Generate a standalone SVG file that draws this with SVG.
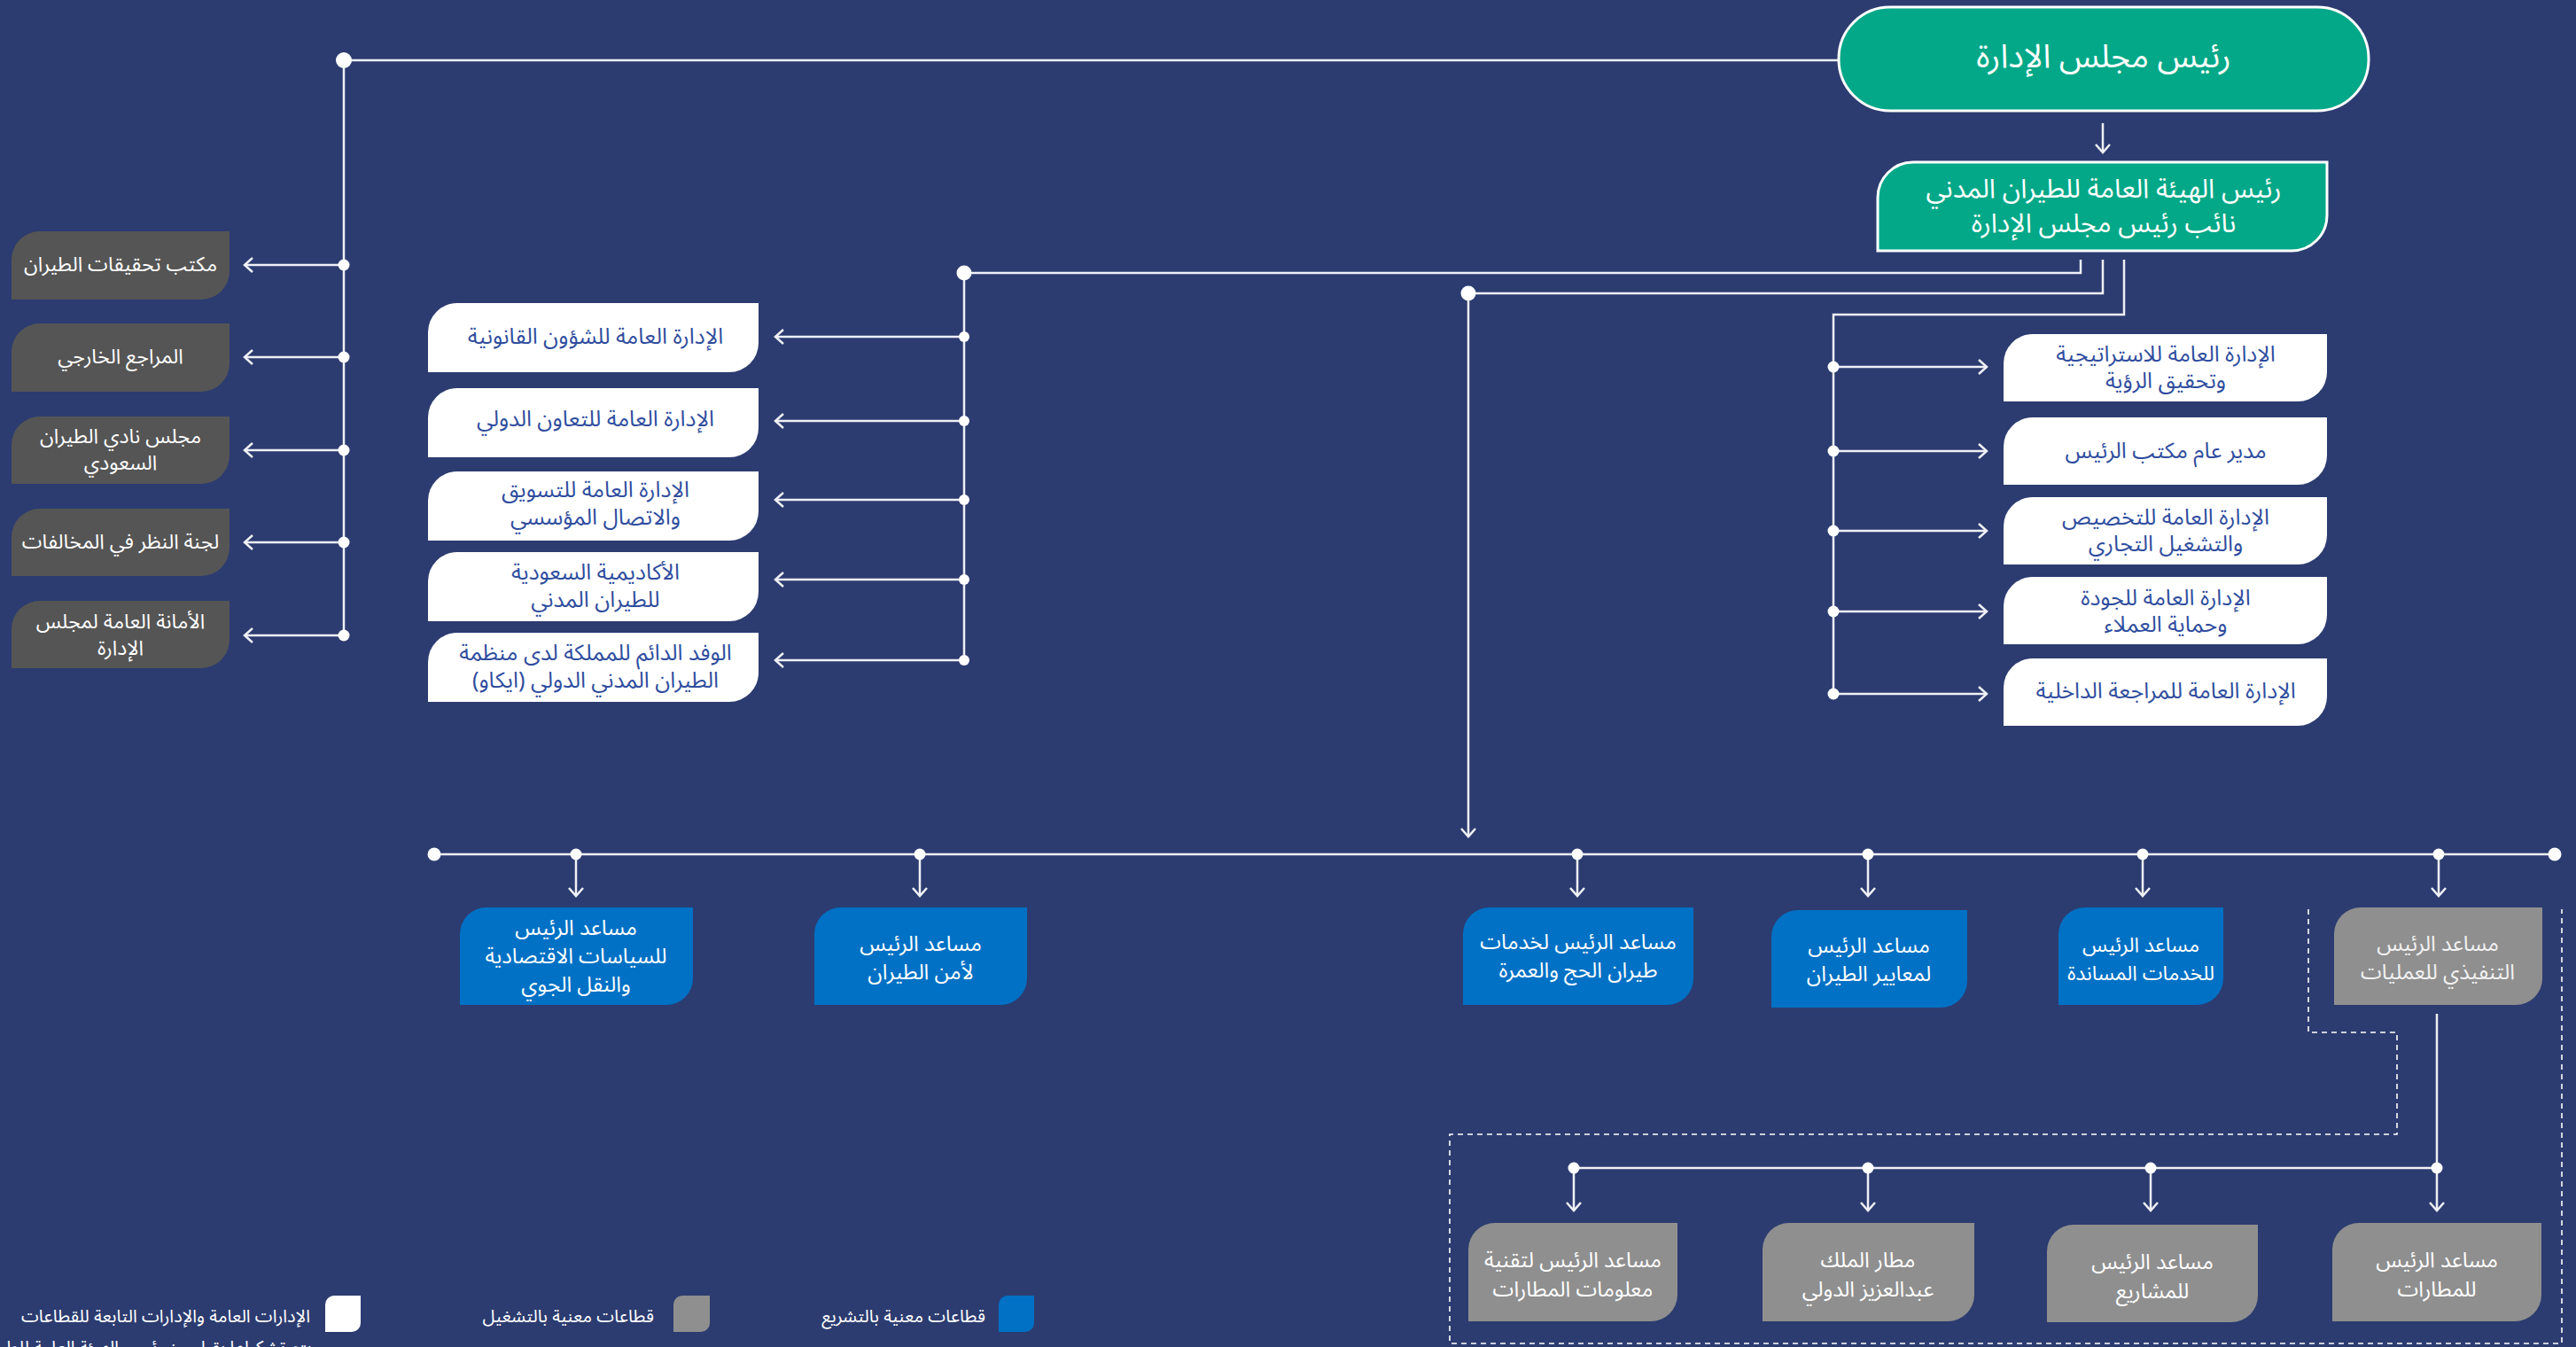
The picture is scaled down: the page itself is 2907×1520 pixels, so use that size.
<svg xmlns="http://www.w3.org/2000/svg" width="2907" height="1520" viewBox="0 0 2907 1520">
<defs>
<style>
.t{font-family:"Noto Sans Arabic","DejaVu Sans",sans-serif;text-anchor:middle;dominant-baseline:central}
.tw{fill:#ffffff;font-size:24px}
.tl{fill:#ffffff;font-size:23px}
.tb{fill:#2f4d9e;font-size:25px}
.tg{fill:#f2f2f2;font-size:24px}
.lg{font-family:"Noto Sans Arabic","DejaVu Sans",sans-serif;fill:#ffffff;font-size:20px;text-anchor:end}
.white{fill:#ffffff}
.dgray{fill:#555555}
.lgray{fill:#8f8f8f}
.blue{fill:#0071c5}
.green{fill:#02a887;stroke:#ffffff;stroke-width:3}
.ln{fill:none;stroke:#eef0f5;stroke-width:2.5}
.ar{fill:none;stroke:#eef0f5;stroke-width:2.5;marker-end:url(#ah)}
.dash{fill:none;stroke:#ffffff;stroke-width:1.6;stroke-dasharray:6 5}
.dot{fill:#ffffff}
</style>
<marker id="ah" markerUnits="userSpaceOnUse" markerWidth="24" markerHeight="24" viewBox="-12 -12 24 24" refX="0" refY="0" orient="auto">
<path d="M-9,-8 L0,0 L-9,8" fill="none" stroke="#eef0f5" stroke-width="2.5"/>
</marker>
</defs>
<rect width="2907" height="1520" fill="#2c3c70"/>

<g id="connectors">
<line class="ln" x1="388" y1="68" x2="2075" y2="68"/>
<line class="ln" x1="388" y1="68" x2="388" y2="717"/>
<line class="ar" x1="388" y1="299" x2="276" y2="299"/>
<line class="ar" x1="388" y1="403" x2="276" y2="403"/>
<line class="ar" x1="388" y1="508" x2="276" y2="508"/>
<line class="ar" x1="388" y1="612" x2="276" y2="612"/>
<line class="ar" x1="388" y1="717" x2="276" y2="717"/>
<line class="ar" x1="2373" y1="139" x2="2373" y2="172"/>
<polyline class="ln" points="2348,293 2348,308 1088,308"/>
<line class="ln" x1="1088" y1="308" x2="1088" y2="745"/>
<line class="ar" x1="1088" y1="380" x2="875" y2="380"/>
<line class="ar" x1="1088" y1="475" x2="875" y2="475"/>
<line class="ar" x1="1088" y1="564" x2="875" y2="564"/>
<line class="ar" x1="1088" y1="654" x2="875" y2="654"/>
<line class="ar" x1="1088" y1="745" x2="875" y2="745"/>
<polyline class="ln" points="2373,293 2373,331 1657,331"/>
<line class="ar" x1="1657" y1="331" x2="1657" y2="944"/>
<polyline class="ln" points="2397,293 2397,355 2069,355 2069,783"/>
<line class="ar" x1="2069" y1="414" x2="2242" y2="414"/>
<line class="ar" x1="2069" y1="509" x2="2242" y2="509"/>
<line class="ar" x1="2069" y1="599" x2="2242" y2="599"/>
<line class="ar" x1="2069" y1="690" x2="2242" y2="690"/>
<line class="ar" x1="2069" y1="783" x2="2242" y2="783"/>
<line class="ln" x1="490" y1="964" x2="2883" y2="964"/>
<line class="ar" x1="650" y1="964" x2="650" y2="1011"/>
<line class="ar" x1="1038" y1="964" x2="1038" y2="1011"/>
<line class="ar" x1="1780" y1="964" x2="1780" y2="1011"/>
<line class="ar" x1="2108" y1="964" x2="2108" y2="1011"/>
<line class="ar" x1="2418" y1="964" x2="2418" y2="1011"/>
<line class="ar" x1="2752" y1="964" x2="2752" y2="1011"/>
<line class="ln" x1="2750" y1="1144" x2="2750" y2="1318"/>
<line class="ln" x1="1776" y1="1318" x2="2750" y2="1318"/>
<line class="ar" x1="1776" y1="1318" x2="1776" y2="1366"/>
<line class="ar" x1="2108" y1="1318" x2="2108" y2="1366"/>
<line class="ar" x1="2427" y1="1318" x2="2427" y2="1366"/>
<line class="ar" x1="2750" y1="1318" x2="2750" y2="1366"/>
<path class="dash" d="M2605,1026 V1165 H2705 V1280 H1636 V1516 H2891 V1026"/>
<circle class="dot" cx="388" cy="68" r="9"/>
<circle class="dot" cx="388" cy="299" r="6.5"/>
<circle class="dot" cx="388" cy="403" r="6.5"/>
<circle class="dot" cx="388" cy="508" r="6.5"/>
<circle class="dot" cx="388" cy="612" r="6.5"/>
<circle class="dot" cx="388" cy="717" r="6.5"/>
<circle class="dot" cx="1088" cy="308" r="8.5"/>
<circle class="dot" cx="1088" cy="380" r="6"/>
<circle class="dot" cx="1088" cy="475" r="6"/>
<circle class="dot" cx="1088" cy="564" r="6"/>
<circle class="dot" cx="1088" cy="654" r="6"/>
<circle class="dot" cx="1088" cy="745" r="6"/>
<circle class="dot" cx="1657" cy="331" r="8.5"/>
<circle class="dot" cx="2069" cy="414" r="6.5"/>
<circle class="dot" cx="2069" cy="509" r="6.5"/>
<circle class="dot" cx="2069" cy="599" r="6.5"/>
<circle class="dot" cx="2069" cy="690" r="6.5"/>
<circle class="dot" cx="2069" cy="783" r="6.5"/>
<circle class="dot" cx="490" cy="964" r="7.5"/>
<circle class="dot" cx="2883" cy="964" r="7.5"/>
<circle class="dot" cx="650" cy="964" r="6.5"/>
<circle class="dot" cx="1038" cy="964" r="6.5"/>
<circle class="dot" cx="1780" cy="964" r="6.5"/>
<circle class="dot" cx="2108" cy="964" r="6.5"/>
<circle class="dot" cx="2418" cy="964" r="6.5"/>
<circle class="dot" cx="2752" cy="964" r="6.5"/>
<circle class="dot" cx="1776" cy="1318" r="6.5"/>
<circle class="dot" cx="2108" cy="1318" r="6.5"/>
<circle class="dot" cx="2427" cy="1318" r="6.5"/>
<circle class="dot" cx="2750" cy="1318" r="6.5"/>
</g>

<g id="n-chairman">
<rect class="green" x="2075" y="8" width="598" height="117" rx="58" ry="58"/>
<text class="t" x="2374" y="64" fill="#ffffff" font-size="37">رئيس مجلس الإدارة</text>
</g>
<g id="n-president">
<path class="green" d="M2119 223 A40 40 0 0 1 2159 183 H2626 V243 A40 40 0 0 1 2586 283 H2119 Z"/>
<text class="t" fill="#ffffff" font-size="30"><tspan x="2374" y="213">رئيس الهيئة العامة للطيران المدني</tspan><tspan x="2374" y="252">نائب رئيس مجلس الإدارة</tspan></text>
</g>

<g id="n-left1"><path class="dgray" d="M13 293 A32 32 0 0 1 45 261 H259 V306 A32 32 0 0 1 227 338 H13 Z"/>
<text class="t tl" x="136" y="298">مكتب تحقيقات الطيران</text></g>
<g id="n-left2"><path class="dgray" d="M13 397 A32 32 0 0 1 45 365 H259 V410 A32 32 0 0 1 227 442 H13 Z"/>
<text class="t tl" x="136" y="402">المراجع الخارجي</text></g>
<g id="n-left3"><path class="dgray" d="M13 502 A32 32 0 0 1 45 470 H259 V514 A32 32 0 0 1 227 546 H13 Z"/>
<text class="t tl"><tspan x="136" y="492">مجلس نادي الطيران</tspan><tspan x="136" y="522">السعودي</tspan></text></g>
<g id="n-left4"><path class="dgray" d="M13 606 A32 32 0 0 1 45 574 H259 V618 A32 32 0 0 1 227 650 H13 Z"/>
<text class="t tl" x="136" y="611">لجنة النظر في المخالفات</text></g>
<g id="n-left5"><path class="dgray" d="M13 710 A32 32 0 0 1 45 678 H259 V722 A32 32 0 0 1 227 754 H13 Z"/>
<text class="t tl"><tspan x="136" y="701">الأمانة العامة لمجلس</tspan><tspan x="136" y="731">الإدارة</tspan></text></g>

<g id="n-mid1"><path class="white" d="M483 375 A33 33 0 0 1 516 342 H856 V387 A33 33 0 0 1 823 420 H483 Z"/>
<text class="t tb" x="672" y="380">الإدارة العامة للشؤون القانونية</text></g>
<g id="n-mid2"><path class="white" d="M483 471 A33 33 0 0 1 516 438 H856 V483 A33 33 0 0 1 823 516 H483 Z"/>
<text class="t tb" x="672" y="473">الإدارة العامة للتعاون الدولي</text></g>
<g id="n-mid3"><path class="white" d="M483 565 A33 33 0 0 1 516 532 H856 V577 A33 33 0 0 1 823 610 H483 Z"/>
<text class="t tb"><tspan x="672" y="553">الإدارة العامة للتسويق</tspan><tspan x="672" y="584">والاتصال المؤسسي</tspan></text></g>
<g id="n-mid4"><path class="white" d="M483 656 A33 33 0 0 1 516 623 H856 V668 A33 33 0 0 1 823 701 H483 Z"/>
<text class="t tb"><tspan x="672" y="646">الأكاديمية السعودية</tspan><tspan x="672" y="677">للطيران المدني</tspan></text></g>
<g id="n-mid5"><path class="white" d="M483 747 A33 33 0 0 1 516 714 H856 V759 A33 33 0 0 1 823 792 H483 Z"/>
<text class="t tb"><tspan x="672" y="737">الوفد الدائم للمملكة لدى منظمة</tspan><tspan x="672" y="768">الطيران المدني الدولي (ايكاو)</tspan></text></g>

<g id="n-right1"><path class="white" d="M2261 410 A33 33 0 0 1 2294 377 H2626 V420 A33 33 0 0 1 2593 453 H2261 Z"/>
<text class="t tb"><tspan x="2444" y="400">الإدارة العامة للاستراتيجية</tspan><tspan x="2444" y="430">وتحقيق الرؤية</tspan></text></g>
<g id="n-right2"><path class="white" d="M2261 504 A33 33 0 0 1 2294 471 H2626 V514 A33 33 0 0 1 2593 547 H2261 Z"/>
<text class="t tb" x="2444" y="509">مدير عام مكتب الرئيس</text></g>
<g id="n-right3"><path class="white" d="M2261 594 A33 33 0 0 1 2294 561 H2626 V604 A33 33 0 0 1 2593 637 H2261 Z"/>
<text class="t tb"><tspan x="2444" y="584">الإدارة العامة للتخصيص</tspan><tspan x="2444" y="614">والتشغيل التجاري</tspan></text></g>
<g id="n-right4"><path class="white" d="M2261 684 A33 33 0 0 1 2294 651 H2626 V694 A33 33 0 0 1 2593 727 H2261 Z"/>
<text class="t tb"><tspan x="2444" y="675">الإدارة العامة للجودة</tspan><tspan x="2444" y="705">وحماية العملاء</tspan></text></g>
<g id="n-right5"><path class="white" d="M2261 776 A33 33 0 0 1 2294 743 H2626 V786 A33 33 0 0 1 2593 819 H2261 Z"/>
<text class="t tb" x="2444" y="780">الإدارة العامة للمراجعة الداخلية</text></g>

<g id="n-econ"><path class="blue" d="M519 1054 A30 30 0 0 1 549 1024 H782 V1104 A30 30 0 0 1 752 1134 H519 Z"/>
<text class="t tw"><tspan x="650" y="1047">مساعد الرئيس</tspan><tspan x="650" y="1079">للسياسات الاقتصادية</tspan><tspan x="650" y="1111">والنقل الجوي</tspan></text></g>
<g id="n-security"><path class="blue" d="M919 1054 A30 30 0 0 1 949 1024 H1159 V1104 A30 30 0 0 1 1129 1134 H919 Z"/>
<text class="t tw"><tspan x="1039" y="1065">مساعد الرئيس</tspan><tspan x="1039" y="1097">لأمن الطيران</tspan></text></g>
<g id="n-hajj"><path class="blue" d="M1651 1054 A30 30 0 0 1 1681 1024 H1911 V1104 A30 30 0 0 1 1881 1134 H1651 Z"/>
<text class="t tw"><tspan x="1781" y="1063">مساعد الرئيس لخدمات</tspan><tspan x="1781" y="1095">طيران الحج والعمرة</tspan></text></g>
<g id="n-standards"><path class="blue" d="M1999 1057 A30 30 0 0 1 2029 1027 H2220 V1107 A30 30 0 0 1 2190 1137 H1999 Z"/>
<text class="t tw"><tspan x="2109" y="1067">مساعد الرئيس</tspan><tspan x="2109" y="1099">لمعايير الطيران</tspan></text></g>
<g id="n-support"><path class="blue" d="M2323 1054 A30 30 0 0 1 2353 1024 H2509 V1104 A30 30 0 0 1 2479 1134 H2323 Z"/>
<text class="t tl"><tspan x="2416" y="1066">مساعد الرئيس</tspan><tspan x="2416" y="1098">للخدمات المساندة</tspan></text></g>
<g id="n-ops"><path class="lgray" d="M2634 1054 A30 30 0 0 1 2664 1024 H2869 V1104 A30 30 0 0 1 2839 1134 H2634 Z"/>
<text class="t tg"><tspan x="2751" y="1065">مساعد الرئيس</tspan><tspan x="2751" y="1097">التنفيذي للعمليات</tspan></text></g>

<g id="n-airportit"><path class="lgray" d="M1657 1410 A30 30 0 0 1 1687 1380 H1893 V1461 A30 30 0 0 1 1863 1491 H1657 Z"/>
<text class="t tw"><tspan x="1775" y="1422">مساعد الرئيس لتقنية</tspan><tspan x="1775" y="1455">معلومات المطارات</tspan></text></g>
<g id="n-kaia"><path class="lgray" d="M1989 1410 A30 30 0 0 1 2019 1380 H2228 V1461 A30 30 0 0 1 2198 1491 H1989 Z"/>
<text class="t tw"><tspan x="2108" y="1422">مطار الملك</tspan><tspan x="2108" y="1455">عبدالعزيز الدولي</tspan></text></g>
<g id="n-projects"><path class="lgray" d="M2310 1412 A30 30 0 0 1 2340 1382 H2548 V1462 A30 30 0 0 1 2518 1492 H2310 Z"/>
<text class="t tw"><tspan x="2429" y="1424">مساعد الرئيس</tspan><tspan x="2429" y="1457">للمشاريع</tspan></text></g>
<g id="n-airports"><path class="lgray" d="M2632 1410 A30 30 0 0 1 2662 1380 H2868 V1461 A30 30 0 0 1 2838 1491 H2632 Z"/>
<text class="t tw"><tspan x="2750" y="1422">مساعد الرئيس</tspan><tspan x="2750" y="1455">للمطارات</tspan></text></g>

<g id="legend">
<path class="white" d="M367 1472 A10 10 0 0 1 377 1462 H407 V1493 A10 10 0 0 1 397 1503 H367 Z"/>
<text class="lg" font-size="19"><tspan x="350" y="1492">الإدارات العامة والإدارات التابعة للقطاعات</tspan><tspan x="352" y="1527">يتم تشكيلها بقرار من رئيس الهيئة العامة للطيران المدني</tspan></text>
<path class="lgray" d="M760 1472 A10 10 0 0 1 770 1462 H801 V1493 A10 10 0 0 1 791 1503 H760 Z"/>
<text class="lg" x="738" y="1492">قطاعات معنية بالتشغيل</text>
<path class="blue" d="M1127 1472 A10 10 0 0 1 1137 1462 H1167 V1493 A10 10 0 0 1 1157 1503 H1127 Z"/>
<text class="lg" x="1112" y="1492">قطاعات معنية بالتشريع</text>
</g>
</svg>
